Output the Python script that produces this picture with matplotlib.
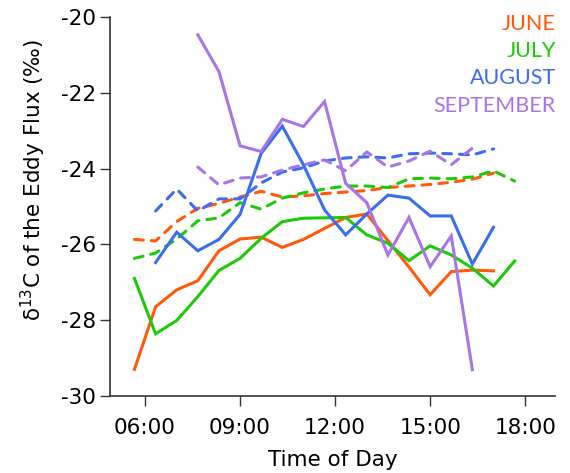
import matplotlib
matplotlib.use("Agg")
import matplotlib.pyplot as plt

plt.rcParams['axes.unicode_minus'] = False

times = ["05:40", "06:20", "07:00", "07:40", "08:20", "09:00", "09:40", "10:20",
         "11:00", "11:40", "12:20", "13:00", "13:40", "14:20", "15:00", "15:40",
         "16:20", "17:00", "17:40"]

june_solid = [-29.3, -27.65, -27.2, -26.96, -26.17, -25.86, -25.81, -26.08, -25.87,
              -25.58, -25.29, -25.2, -25.9, -26.6, -27.33, -26.72, -26.68, -26.7]
july_solid = [-26.9, -28.36, -28.01, -27.38, -26.69, -26.37, -25.84, -25.4, -25.31,
              -25.3, -25.29, -25.75, -25.97, -26.43, -26.04, -26.28, -26.63, -27.1, -26.44]
aug_solid = [None, -26.48, -25.68, -26.17, -25.87, -25.21, -23.6, -22.88, -23.9,
             -25.09, -25.75, -25.2, -24.7, -24.78, -25.25, -25.25, -26.52, -25.55]
sep_solid = [None, None, None, -20.47, -21.44, -23.4, -23.55, -22.7, -22.89, -22.23,
             -24.39, -24.9, -26.28, -25.29, -26.59, -25.78, -29.31]

june_dash = [-25.87, -25.91, -25.4, -25.05, -24.92, -24.75, -24.6, -24.75, -24.72,
             -24.66, -24.62, -24.58, -24.5, -24.46, -24.42, -24.36, -24.28, -24.12]
july_dash = [-26.37, -26.23, -25.86, -25.38, -25.3, -24.9, -25.07, -24.78, -24.64,
             -24.54, -24.46, -24.46, -24.5, -24.27, -24.25, -24.27, -24.22, -24.06, -24.33]
aug_dash = [None, -25.12, -24.54, -25.12, -24.8, -24.8, -24.38, -24.09, -23.98,
            -23.8, -23.72, -23.69, -23.72, -23.61, -23.59, -23.61, -23.64, -23.48]
sep_dash = [None, None, None, -23.96, -24.43, -24.25, -24.22, -24.04, -23.9, -23.77,
            -24.06, -23.56, -23.96, -23.8, -23.54, -23.9, -23.46]

months = ["JUNE", "JULY", "AUGUST", "SEPTEMBER"]
colors = ["#FF5A0A", "#1FC90A", "#3A6DF0", "#A875E6"]

xtick_hours = [6, 9, 12, 15, 18]
xtick_labels = ["06:00", "09:00", "12:00", "15:00", "18:00"]
ytick_vals = [-30, -28, -26, -24, -22, -20]
ytick_labels = ["-30", "-28", "-26", "-24", "-22", "-20"]


def to_hours(t):
    h, m = t.split(":")
    return int(h) + int(m) / 60.0


hours = [to_hours(t) for t in times]


def pairs(vals):
    xs, ys = [], []
    for h, v in zip(hours, vals):
        if v is not None:
            xs.append(h)
            ys.append(v)
    return xs, ys


fig = plt.figure(figsize=(5.7, 4.73), dpi=100)
ax = fig.add_axes([0.193, 0.163, 0.781, 0.801])

solids = [june_solid, july_solid, aug_solid, sep_solid]
dashes = [june_dash, july_dash, aug_dash, sep_dash]
lw = 2.2
for vals, c in zip(dashes, colors):
    xs, ys = pairs(vals)
    ax.plot(xs, ys, color=c, lw=lw, dashes=(2.9, 2.6), dash_capstyle='round')
for vals, c in zip(solids, colors):
    xs, ys = pairs(vals)
    ax.plot(xs, ys, color=c, lw=lw, solid_joinstyle='miter')

ax.set_xlim(4.895, 18.947)
ax.set_ylim(-30, -20)
ax.set_xticks(xtick_hours)
ax.set_xticklabels(xtick_labels)
ax.set_yticks(ytick_vals)
ax.set_yticklabels(ytick_labels)

for s in ["top", "right"]:
    ax.spines[s].set_visible(False)
for s in ["left", "bottom"]:
    ax.spines[s].set_linewidth(1.2)
    ax.spines[s].set_color("#333333")

ax.tick_params(axis='both', direction='out', length=7.2, width=1.0,
               colors="#333333", labelcolor="black", labelsize=15.5)
ax.tick_params(axis='x', pad=9)
ax.tick_params(axis='y', pad=3)

ax.set_xlabel("Time of Day", fontsize=15.5, labelpad=8)
ax.set_ylabel("δ$^{13}$C of the Eddy Flux (‰)", fontsize=15.5)
ax.yaxis.set_label_coords(-0.14, 0.57)

for i, (m, c) in enumerate(zip(months, colors)):
    fig.text(0.975, 1 - (23.5 + 27.5 * i) / 473, m, color=c, ha='right',
             va='center', fontsize=15.5, family='Lato', fontweight='normal')

fig.savefig("out.png", dpi=100)
